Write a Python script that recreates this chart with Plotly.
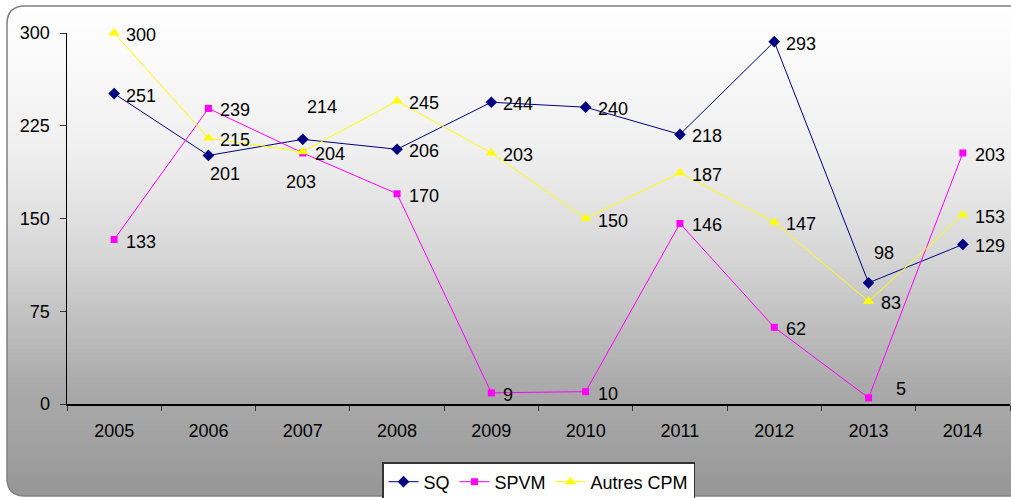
import plotly.graph_objects as go

years = ["2005", "2006", "2007", "2008", "2009", "2010", "2011", "2012", "2013", "2014"]
sq = [251, 201, 214, 206, 244, 240, 218, 293, 98, 129]
spvm = [133, 239, 203, 170, 9, 10, 146, 62, 5, 203]
autres = [300, 215, 204, 245, 203, 150, 187, 147, 83, 153]
y_ticks = [0, 75, 150, 225, 300]

series = [
    ("SQ", sq, "#000080", "diamond", 9),
    ("SPVM", spvm, "#ff00ff", "square", 7),
    ("Autres CPM", autres, "#ffff00", "triangle-up", 10),
]

# label offsets (px) for labels not placed at the default right position
label_offsets = {
    ("SQ", 1): (0, -19),
    ("SQ", 2): (2, 32),
    ("SPVM", 2): (-19, -29),
    ("SQ", 8): (3, 30),
    ("SPVM", 8): (25, 9),
}

FONT = "Liberation Sans, Arial, sans-serif"
fig = go.Figure()
annotations = []
for name, vals, color, sym, size in series:
    fig.add_trace(go.Scatter(
        x=years, y=vals, name=name, mode="lines+markers",
        line=dict(color=color, width=1),
        marker=dict(symbol=sym, size=size, color=color, line=dict(width=0)),
        cliponaxis=False,
    ))
    for i, v in enumerate(vals):
        dx, dy = label_offsets.get((name, i), (10, -2))
        annotations.append(dict(
            x=i, y=v, xref="x", yref="y", text=str(v), showarrow=False,
            xanchor="left", yanchor="middle", xshift=dx, yshift=dy,
            font=dict(family=FONT, size=18, color="black"),
        ))

W, H = 1011, 498
PL, PR, PT, PB = 67, 1010, 33, 404  # plot area in pixels


def px(xp):
    return (xp - PL) / (PR - PL)


def py(yp):
    return (PB - yp) / (PB - PT)


# background gradient (grey level by pixel row) + rounded frame
stops = [(6, 254), (60, 250), (160, 238), (250, 216), (390, 169), (430, 164), (496, 150)]


def grey_at(yp):
    for (t0, g0), (t1, g1) in zip(stops[:-1], stops[1:]):
        if t0 <= yp <= t1:
            return g0 + (g1 - g0) * (yp - t0) / (t1 - t0)
    return stops[-1][1]


top_px, bot_px, left_px = 6, 496, 7
r = 18
shapes = []
n = 120
for k in range(n):
    y0p = top_px + (bot_px - top_px) * k / n
    g = int(round(grey_at(y0p + (bot_px - top_px) / (2 * n))))
    shapes.append(dict(
        type="rect", xref="paper", yref="paper", layer="below",
        x0=px(left_px), x1=px(W + 10),
        y0=py(bot_px), y1=py(y0p),
        fillcolor=f"rgb({g},{g},{g})", line=dict(width=0),
    ))

# white corner masks outside the rounded frame
for (cx, cy, sx, sy) in [(left_px, top_px, 1, 1), (left_px, bot_px, 1, -1)]:
    p = (f"M {px(cx - 1)},{py(cy - sy)} L {px(cx + sx * r)},{py(cy - sy)} "
         f"L {px(cx + sx * r)},{py(cy)} "
         f"Q {px(cx)},{py(cy)} {px(cx)},{py(cy + sy * r)} "
         f"L {px(cx - 1)},{py(cy + sy * r)} Z")
    shapes.append(dict(type="path", xref="paper", yref="paper", layer="below",
                       path=p, fillcolor="white", line=dict(width=0)))

path = (f"M {px(left_px + r)},{py(top_px)} L {px(W + 10)},{py(top_px)} "
        f"M {px(W + 10)},{py(bot_px)} L {px(left_px + r)},{py(bot_px)} "
        f"Q {px(left_px)},{py(bot_px)} {px(left_px)},{py(bot_px - r)} "
        f"L {px(left_px)},{py(top_px + r)} "
        f"Q {px(left_px)},{py(top_px)} {px(left_px + r)},{py(top_px)}")
shapes.append(dict(type="path", xref="paper", yref="paper", path=path,
                   line=dict(color="#808080", width=1.5), layer="below"))

fig.update_layout(
    width=W, height=H,
    margin=dict(l=PL, r=W - PR, t=PT, b=H - PB),
    paper_bgcolor="white", plot_bgcolor="rgba(0,0,0,0)",
    showlegend=True,
    legend=dict(
        orientation="h", x=0.5, xanchor="center",
        yref="container", y=1 - 462 / H, yanchor="top",
        bgcolor="white", bordercolor="#333333", borderwidth=1.5,
        font=dict(family=FONT, size=18, color="black"),
        itemwidth=30, tracegroupgap=0,
    ),
    annotations=annotations,
    shapes=shapes,
    xaxis=dict(
        type="category", range=[-0.5, 9.5], showgrid=False,
        showline=True, linecolor="black", linewidth=1.5,
        ticks="outside", tickson="boundaries", ticklen=5, tickcolor="#333",
        tickfont=dict(family=FONT, size=18, color="black"),
        ticklabelstandoff=10, fixedrange=True, automargin=False,
    ),
    yaxis=dict(
        range=[0, 300], tickvals=y_ticks, showgrid=False, zeroline=False,
        showline=True, linecolor="black", linewidth=1.5,
        ticks="outside", ticklen=6, tickcolor="#333",
        tickfont=dict(family=FONT, size=18, color="black"),
        ticklabelstandoff=6, fixedrange=True, automargin=False,
    ),
)

fig.write_html("out.html", post_script="document.body.style.margin='0';",
               config={"displayModeBar": False, "staticPlot": True})
